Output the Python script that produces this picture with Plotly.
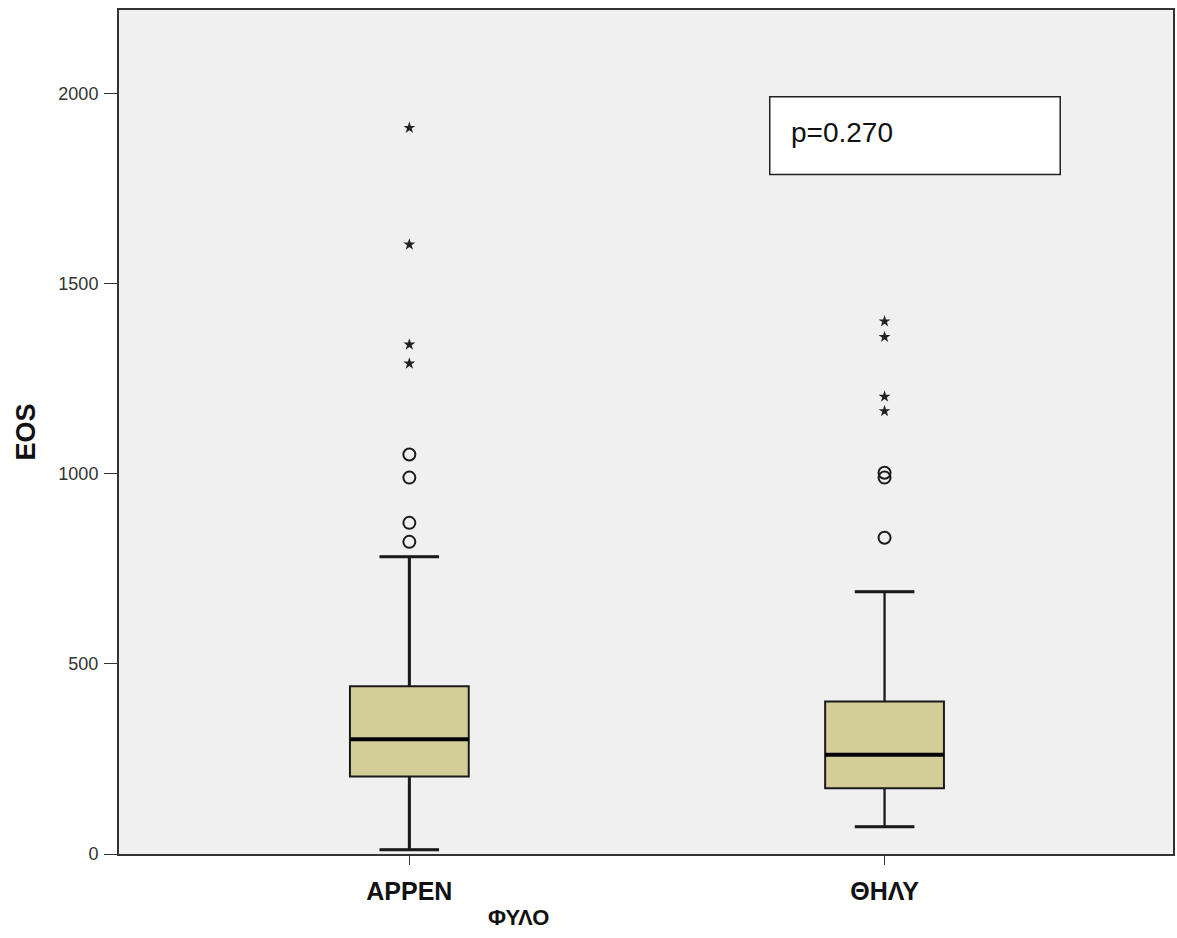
import plotly.graph_objects as go

# ---- data ----
categories = ["APPEN", "ΘΗΛΥ"]
q1 = [204, 173]
medians = [302, 261]
q3 = [441, 401]
lower_whisker = [11, 72]
upper_whisker = [782, 690]
outliers = [[821, 871, 990, 1051], [832, 990, 1003]]
extremes = [[1290, 1340, 1603, 1910], [1165, 1203, 1360, 1401]]
y_ticks = [0, 500, 1000, 1500, 2000]
p_text = "p=0.270"

# ---- styling ----
FONT = "Arial, 'Liberation Sans', sans-serif"
BOX_W = 0.25
FILL = "#d3ce98"
INK = "#1a1a1a"
whisker_widths = [3, 1.6]

fig = go.Figure()
xs = list(range(len(categories)))

for i, cat in enumerate(categories):
    fig.add_trace(go.Box(
        x=[xs[i]], q1=[q1[i]], median=[medians[i]], q3=[q3[i]],
        lowerfence=[lower_whisker[i]], upperfence=[upper_whisker[i]],
        width=BOX_W, fillcolor=FILL, line=dict(color=INK, width=2),
        whiskerwidth=0.5, boxpoints=False, hoverinfo="skip", showlegend=False,
    ))
    hw = BOX_W / 2
    cw = BOX_W / 4
    fig.add_trace(go.Scatter(
        x=[xs[i], xs[i], None, xs[i], xs[i]],
        y=[q3[i], upper_whisker[i], None, q1[i], lower_whisker[i]],
        mode="lines", line=dict(color=INK, width=whisker_widths[i]),
        showlegend=False, hoverinfo="skip"))
    fig.add_trace(go.Scatter(
        x=[xs[i] - cw, xs[i] + cw, None, xs[i] - cw, xs[i] + cw],
        y=[upper_whisker[i], upper_whisker[i], None, lower_whisker[i], lower_whisker[i]],
        mode="lines", line=dict(color=INK, width=3),
        showlegend=False, hoverinfo="skip"))
    fig.add_trace(go.Scatter(
        x=[xs[i] - hw, xs[i] + hw], y=[medians[i], medians[i]],
        mode="lines", line=dict(color="#000000", width=4),
        showlegend=False, hoverinfo="skip"))
    fig.add_trace(go.Scatter(
        x=[xs[i]] * len(outliers[i]), y=outliers[i], mode="markers",
        marker=dict(symbol="circle-open", size=12, color=INK, line=dict(width=2)),
        showlegend=False, hoverinfo="skip"))
    fig.add_trace(go.Scatter(
        x=[xs[i]] * len(extremes[i]), y=extremes[i], mode="markers",
        marker=dict(symbol="star", size=9, color="#222", line=dict(width=0)),
        showlegend=False, hoverinfo="skip"))

fig.add_shape(type="rect", xref="paper", yref="y",
              x0=0.6174, x1=0.893, y0=1787, y1=1992,
              fillcolor="white", line=dict(color="#222", width=1.5), layer="above")
fig.add_annotation(xref="paper", yref="y", x=0.636, y=1898, text=p_text,
                   showarrow=False, xanchor="left", yanchor="middle",
                   font=dict(family=FONT, size=28, color="#111"))
fig.add_annotation(xref="paper", yref="paper", x=0.379, y=-0.058, text="<b>ΦΥΛΟ</b>",
                   showarrow=False, xanchor="center", yanchor="top",
                   font=dict(family=FONT, size=22, color="#111"))

fig.update_layout(
    width=1177, height=938,
    margin=dict(l=119, r=2, t=10, b=84),
    paper_bgcolor="white", plot_bgcolor="#f0f0f0",
    font=dict(family=FONT, color="#222"),
    showlegend=False,
    xaxis=dict(
        range=[-0.611, 1.607], tickmode="array", tickvals=xs, ticktext=categories,
        tickfont=dict(family=FONT, size=25, color="#111", weight="bold"),
        ticks="outside", ticklen=9, tickcolor="#333", ticklabelstandoff=5,
        showline=True, linecolor="#333", linewidth=2, mirror=True,
        showgrid=False, zeroline=False,
    ),
    yaxis=dict(
        range=[0, 2220], tickmode="array", tickvals=y_ticks,
        tickfont=dict(family=FONT, size=18, color="#333"),
        ticks="outside", ticklen=13, tickcolor="#333", ticklabelstandoff=2,
        showline=True, linecolor="#333", linewidth=2, mirror=True,
        showgrid=False, zeroline=False,
        title=dict(text="<b>EOS</b>", font=dict(family=FONT, size=27, color="#111"), standoff=15),
    ),
)

fig.write_html("out.html", config={"displayModeBar": False},
               post_script="document.body.style.margin='0';")
